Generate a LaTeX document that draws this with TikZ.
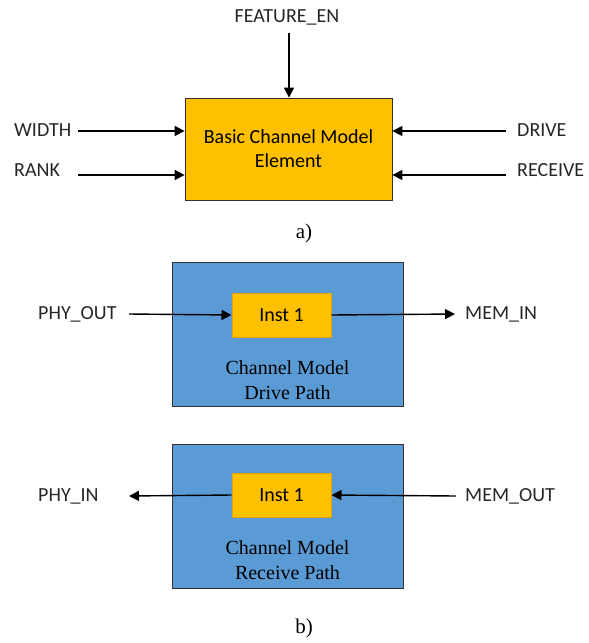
\documentclass[tikz,border=0pt]{standalone}
\usepackage{fontspec}
\setmainfont{Liberation Serif}
\newfontfamily\calibri{Carlito}
\usetikzlibrary{arrows.meta,positioning}

\definecolor{elemorange}{HTML}{FFC000}
\definecolor{instedge}{HTML}{E0A000}
\definecolor{pathblue}{HTML}{5B9BD5}
\definecolor{sigtext}{HTML}{262626}

\begin{document}
\begin{tikzpicture}[
    x=1pt,y=-1pt,
    elembox/.style={rectangle,draw=black!80,line width=0.8pt,fill=elemorange,
                    minimum width=207pt,minimum height=102pt,inner sep=0pt,
                    align=center,font=\calibri\fontsize{20}{24}\selectfont},
    pathbox/.style={rectangle,draw=black!80,line width=1pt,fill=pathblue,
                    minimum width=231pt,minimum height=144pt,inner sep=0pt},
    instbox/.style={rectangle,draw=instedge,line width=1pt,fill=elemorange,
                    minimum width=99pt,minimum height=44pt,inner sep=0pt,
                    font=\calibri\fontsize{20}{24}\selectfont},
    sig/.style={font=\calibri\fontsize{20}{24}\selectfont,text=sigtext,inner sep=0pt},
    pathtxt/.style={align=center,font=\fontsize{20}{25}\selectfont},
    subcap/.style={font=\fontsize{21}{24}\selectfont},
    arr/.style={-{Triangle[length=10pt,width=10pt]},line width=1.4pt}
]
\useasboundingbox (0,0) rectangle (589,643);

% a) basic element
\node[elembox] (elem) at (288.5,149) {Basic Channel Model\\Element};

\node[sig] (feat) at (287,17) {FEATURE\_EN};
\node[sig,anchor=west] (width) at (14,130) {WIDTH};
\node[sig,anchor=west] (rank) at (14,170) {RANK};
\node[sig,anchor=west] (drive) at (517,130) {DRIVE};
\node[sig,anchor=west] (recv) at (517,170) {RECEIVE};

\coordinate (featsrc) at (289,33);
\coordinate (widthsrc) at (78,131);
\coordinate (ranksrc) at (78,175);
\coordinate (drivesrc) at (506,131);
\coordinate (recvsrc) at (506,175);

\draw[arr] (featsrc) -- (featsrc |- elem.north);
\draw[arr] (widthsrc) -- (widthsrc -| elem.west);
\draw[arr] (ranksrc) -- (ranksrc -| elem.west);
\draw[arr] (drivesrc) -- (drivesrc -| elem.east);
\draw[arr] (recvsrc) -- (recvsrc -| elem.east);

\node[subcap] (capa) at (304,233) {a)};

% b) drive path
\node[pathbox] (drvpath) at (287.5,334.5) {};
\node[instbox] (inst1) at (281.5,315) {Inst 1};
\node[pathtxt] (drvtxt) at (287.5,380.5) {Channel Model\\Drive Path};

\node[sig,anchor=west] (phyout) at (38,314) {PHY\_OUT};
\node[sig,anchor=west] (memin) at (465,314) {MEM\_IN};
\coordinate (phyoutsrc) at (129,314);
\coordinate (memindst) at (455,314);

\draw[arr] (phyoutsrc) -- (inst1.west);
\draw[arr] (inst1.east) -- (memindst);

% b) receive path
\node[pathbox] (rcvpath) at (287.5,516.5) {};
\node[instbox] (inst2) at (281.5,495) {Inst 1};
\node[pathtxt] (rcvtxt) at (287.5,560.5) {Channel Model\\Receive Path};

\node[sig,anchor=west] (phyin) at (38,496) {PHY\_IN};
\node[sig,anchor=west] (memout) at (465,496) {MEM\_OUT};
\coordinate (phyindst) at (129,496);
\coordinate (memoutsrc) at (456,496);

\draw[arr] (inst2.west) -- (phyindst);
\draw[arr] (memoutsrc) -- (inst2.east);

\node[subcap] (capb) at (304,628) {b)};
\end{tikzpicture}
\end{document}
